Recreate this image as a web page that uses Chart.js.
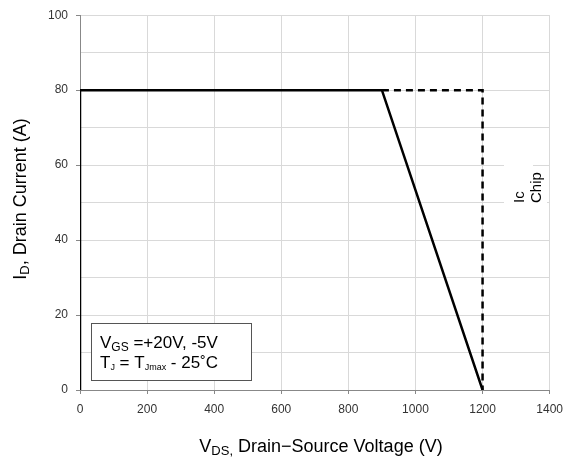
<!DOCTYPE html>
<html>
<head>
<meta charset="utf-8">
<script src="https://cdn.jsdelivr.net/npm/chart.js@4"></script>
<style>
  html, body { margin: 0; padding: 0; background: #fff; }
  #wrap { width: 571px; height: 462px; }
</style>
</head>
<body>
<div id="wrap"><canvas id="soa"></canvas></div>
<script>
// safe operating area
var limitVds = [0, 0, 900, 1200];
var limitId = [0, 80, 80, 0];
var chipVds = [900, 1200, 1200];
var chipId = [80, 80, 0];
var xTicks = [0, 200, 400, 600, 800, 1000, 1200, 1400];
var yTicks = [0, 20, 40, 60, 80, 100];

function toPoints(xs, ys) {
    return xs.map(function (x, i) { return { x: x, y: ys[i] }; });
}

var FONT = '"Liberation Sans", Arial, sans-serif';

// draw text made of pieces with their own size and vertical shift
function richWidth(ctx, parts) {
    var w = 0;
    parts.forEach(function (p) {
        ctx.font = p.size + 'px ' + FONT;
        w += ctx.measureText(p.t).width;
    });
    return w;
}
function drawRich(ctx, parts, x, y) {
    parts.forEach(function (p) {
        ctx.font = p.size + 'px ' + FONT;
        ctx.fillText(p.t, x, y + (p.dy || 0));
        x += ctx.measureText(p.t).width;
    });
}

var annotations = {
    id: 'annotations',
    afterDraw: function (chart) {
        var ctx = chart.ctx;
        ctx.save();
        ctx.fillStyle = '#000';
        ctx.textBaseline = 'alphabetic';
        ctx.textAlign = 'left';

        // x axis title
        var xt = [
            { t: 'V', size: 18 },
            { t: 'DS,', size: 13, dy: 3 },
            { t: ' Drain\u2212Source Voltage (V)', size: 18 }
        ];
        var w = richWidth(ctx, xt);
        drawRich(ctx, xt, 321 - w / 2, 452);

        // y axis title
        var yt = [
            { t: 'I', size: 18 },
            { t: 'D', size: 13, dy: 3 },
            { t: ', Drain Current (A)', size: 18 }
        ];
        ctx.save();
        ctx.translate(26, 199);
        ctx.rotate(-Math.PI / 2);
        w = richWidth(ctx, yt);
        drawRich(ctx, yt, -w / 2, 0);
        ctx.restore();

        // Ic Chip label
        ctx.fillStyle = '#fff';
        ctx.fillRect(504, 150, 29, 62);
        ctx.fillRect(533, 166, 14, 46);
        ctx.fillStyle = '#000';
        ctx.save();
        ctx.translate(524, 203);
        ctx.rotate(-Math.PI / 2);
        ctx.font = '15px ' + FONT;
        ctx.fillText('Ic', 0, 0);
        ctx.fillText('Chip', 0, 17);
        ctx.restore();

        // conditions box
        ctx.fillStyle = '#fff';
        ctx.fillRect(91, 323, 160, 57);
        ctx.strokeStyle = '#555';
        ctx.lineWidth = 1;
        ctx.strokeRect(91.5, 323.5, 160, 57);
        ctx.fillStyle = '#000';
        drawRich(ctx, [
            { t: 'V', size: 17 },
            { t: 'GS', size: 12, dy: 3 },
            { t: ' =+20V, -5V', size: 17 }
        ], 100, 348);
        drawRich(ctx, [
            { t: 'T', size: 17 },
            { t: 'J', size: 9, dy: 2 },
            { t: ' = T', size: 17 },
            { t: 'Jmax', size: 9, dy: 2 },
            { t: ' - 25\u02DAC', size: 17 }
        ], 100, 368);
        ctx.restore();
    }
};

new Chart(document.getElementById('soa'), {
    type: 'scatter',
    data: {
        datasets: [{
            label: 'limit',
            data: toPoints(limitVds, limitId),
            showLine: true,
            borderColor: '#000',
            borderWidth: 2.5,
            pointRadius: 0,
            tension: 0
        }, {
            label: 'chip',
            data: toPoints(chipVds, chipId),
            showLine: true,
            borderColor: '#000',
            borderWidth: 2.5,
            borderDash: [7, 5],
            pointRadius: 0,
            tension: 0
        }]
    },
    options: {
        responsive: true,
        maintainAspectRatio: false,
        animation: false,
        layout: {
            padding: { left: 0, right: 21, top: 14, bottom: 0 }
        },
        plugins: {
            legend: { display: false },
            tooltip: { enabled: false }
        },
        scales: {
            x: {
                type: 'linear',
                min: 0,
                max: 1400,
                afterBuildTicks: function (s) {
                    s.ticks = xTicks.map(function (v) { return { value: v }; });
                },
                afterFit: function (s) { s.height = 72; },
                grid: { color: '#d9d9d9', tickColor: '#888', tickLength: 4 },
                border: { color: '#888' },
                ticks: {
                    padding: 8,
                    color: '#333',
                    font: { family: FONT, size: 12 },
                    callback: function (v) { return String(v); }
                }
            },
            y: {
                min: 0,
                max: 100,
                afterBuildTicks: function (s) {
                    var t = [];
                    for (var v = 0; v <= 100; v += 10) t.push({ value: v });
                    s.ticks = t;
                },
                afterFit: function (s) { s.width = 80; },
                grid: {
                    color: '#d9d9d9',
                    tickLength: 4,
                    tickColor: function (c) {
                        return yTicks.indexOf(c.tick.value) >= 0 ? '#888' : 'rgba(0,0,0,0)';
                    }
                },
                border: { color: '#888' },
                ticks: {
                    padding: 8,
                    color: '#333',
                    font: { family: FONT, size: 12 },
                    callback: function (v) {
                        return yTicks.indexOf(v) >= 0 ? String(v) : '';
                    }
                }
            }
        }
    },
    plugins: [annotations]
});
</script>
</body>
</html>
